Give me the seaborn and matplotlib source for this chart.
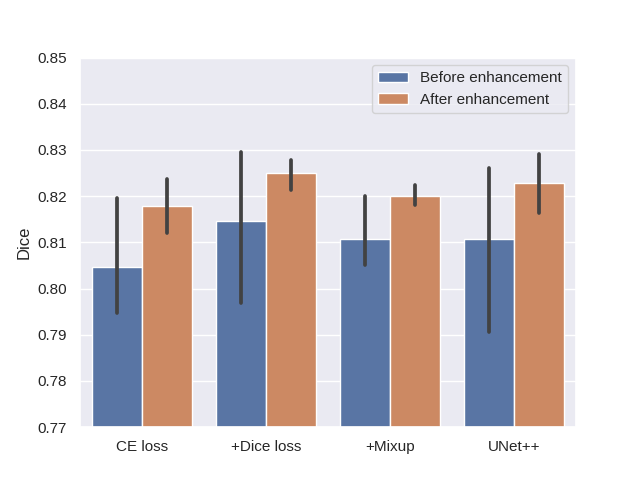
import numpy as np
import pandas as pd
import seaborn as sns
import matplotlib.pyplot as plt

methods = ["CE loss", "+Dice loss", "+Mixup", "UNet++"]
phases = ["Before enhancement", "After enhancement"]

# mean dice per method, with lower / upper ends of the error bar
before_mean = [0.8046, 0.8147, 0.8107, 0.8107]
before_low = [0.7947, 0.7969, 0.8051, 0.7907]
before_high = [0.8197, 0.8296, 0.8200, 0.8262]

after_mean = [0.8179, 0.8251, 0.8201, 0.8229]
after_low = [0.8121, 0.8213, 0.8181, 0.8164]
after_high = [0.8237, 0.8279, 0.8225, 0.8291]

rows = []
for phase, mean, low, high in [
    (phases[0], before_mean, before_low, before_high),
    (phases[1], after_mean, after_low, after_high),
]:
    for m, a, b, c in zip(methods, low, mean, high):
        for v in (a, b, c):
            rows.append({"method": m, "phase": phase, "Dice": v})
df = pd.DataFrame(rows)

sns.set_theme()
plt.rcParams['font.family'] = ['Liberation Sans', 'DejaVu Sans']
fig, ax = plt.subplots(figsize=(6.4, 4.8), dpi=100)
sns.barplot(data=df, x="method", y="Dice", hue="phase", order=methods,
            hue_order=phases, estimator="median", errorbar=("pi", 100),
            err_kws={"linewidth": 2.7}, ax=ax)
ax.set_ylim(0.77, 0.85)
ax.set_xlabel("")
ax.set_ylabel("Dice")
ax.legend(title=None, loc="upper right")
plt.savefig("out.png")
